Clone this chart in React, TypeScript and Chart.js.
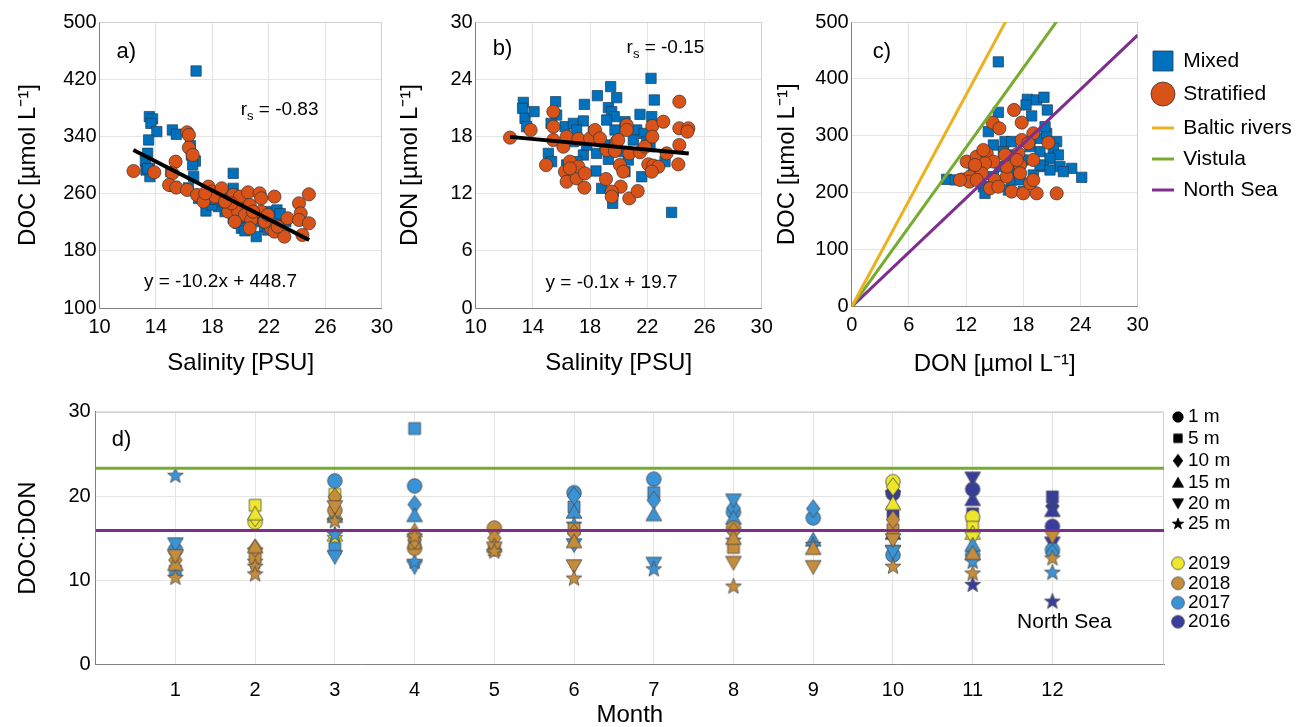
import React, { useEffect, useRef } from 'react';
import { Chart, registerables } from 'chart.js';

Chart.register(...registerables);

const FONT = "'Liberation Sans', Arial, Helvetica, sans-serif";
const BLUE = '#0072BD';
const ORANGE = '#D95319';
const GRID = '#e4e4e4';
const AXIS = '#808080';
const FRAME = '#d0d0d0';
const EDGE = '#333333';

// ---------------- ticks ----------------
const salinityTicks = [10, 14, 18, 22, 26, 30];
const docTicksA = [100, 180, 260, 340, 420, 500];
const donTicksB = [0, 6, 12, 18, 24, 30];
const donTicksC = [0, 6, 12, 18, 24, 30];
const docTicksC = [0, 100, 200, 300, 400, 500];
const ratioTicks = [0, 10, 20, 30];
const monthTicks = [1, 2, 3, 4, 5, 6, 7, 8, 9, 10, 11, 12];

// ---------------- panel a: salinity vs DOC ----------------
const mixedA: number[][] = [
  [16.84, 431.5], [13.53, 367.7], [13.76, 364.4], [13.64, 358.3], [14.06, 346.7], [13.48, 335],
  [13.41, 316.4], [13.25, 305.6], [13.53, 295.4], [13.29, 293], [13.57, 283.7], [15.16, 349],
  [15.44, 343], [16.44, 327], [16.51, 314], [16.79, 305.6], [16.6, 300], [16.67, 283.7],
  [19.47, 288.4], [19.47, 267.4], [17.02, 253.4], [17.54, 235.7], [18.42, 241.8], [18.89, 234.8],
  [19.47, 225.5], [19.82, 218.5], [20.17, 223.1], [20.64, 234.8], [21.22, 220.8], [21.69, 213.8],
  [21.1, 199.8], [22.04, 234.8], [22.57, 237.1], [21.92, 209.1], [19.59, 248.8], [19.12, 253.4],
  [20.52, 213.8], [20.05, 211.5], [21.45, 230.1], [18.42, 248.8], [17.96, 244.1], [22.6, 228],
  [23.2, 220.7], [22.8, 232], [20.8, 226], [21.6, 225], [19.9, 240], [18.2, 252], [16.3, 268],
  [15.28, 270], [13.41, 295], [15.05, 290.6], [20.3, 208], [22.3, 215], [19.24, 240],
];
const stratifiedA: number[][] = [
  [12.41, 291.6], [13.88, 289.8], [16.21, 345.7], [16.33, 342], [16.33, 324.3], [16.6, 314],
  [15.39, 304.7], [15.16, 288.4], [14.93, 272.1], [15.44, 268.4], [16.21, 265.1], [16.91, 258.1],
  [17.72, 269.8], [17.96, 262.8], [18.42, 260.4], [17.37, 248.8], [18.19, 255.8], [18.66, 267.4],
  [19.12, 234.8], [19.47, 258.1], [19.94, 255.8], [20.52, 261.8], [21.34, 260.4], [21.45, 253.4],
  [22.39, 255.8], [20.64, 244.1], [19.82, 234.8], [20.29, 230.1], [20.75, 223.1], [21.45, 234.8],
  [22.15, 211.5], [22.39, 206.8], [23.09, 199.8], [23.32, 225.5], [24.13, 246.4], [24.25, 232.4],
  [24.83, 259], [24.13, 223.1], [24.83, 218.5], [24.37, 202.1], [21.69, 220.8], [22.62, 213.8],
  [19.36, 246.4], [17.49, 260.4], [18.89, 248.8], [20.87, 234.8], [21.92, 230.1], [20.64, 211.5],
  [19.59, 220.8],
];
const fitA: number[][] = [[12.4, 321], [24.85, 195]];

// ---------------- panel b: salinity vs DON ----------------
const mixedB: number[][] = [
  [13.33, 21.57], [13.28, 20.94], [13.45, 19.9], [13.56, 19.02], [14.08, 20.6], [15.59, 21.64],
  [15.66, 20.24], [15.27, 19.37], [16.25, 19.02], [16.83, 19.37], [17.6, 21.36], [17.53, 19.62],
  [18.51, 22.27], [19.44, 23.22], [19.86, 22.06], [19.28, 21.01], [19.51, 20.6], [19.69, 20.07],
  [19.16, 19.72], [19.74, 18.67], [20.44, 19.54], [21.26, 18.67], [21.49, 20.31], [22.26, 24.09],
  [22.49, 21.82], [22.31, 20.07], [21.77, 18.32], [22.19, 16.92], [15.08, 16.22], [15.31, 15.35],
  [16.36, 15.0], [17.53, 16.05], [18.46, 16.22], [18.41, 14.37], [19.28, 15.59], [20.67, 15.52],
  [21.61, 13.77], [23.24, 15.35], [18.81, 12.55], [19.62, 12.2], [19.58, 10.98], [23.7, 10.03],
  [16.83, 17.45], [17.76, 17.1], [19.04, 17.1], [21.02, 17.62], [21.96, 17.45], [20.32, 16.4],
  [17.06, 18.67], [18.23, 18.5], [20.44, 14.3], [17.06, 15.35],
];
const stratifiedB: number[][] = [
  [12.4, 17.87], [13.84, 18.67], [15.43, 20.6], [15.43, 19.02], [15.43, 17.62], [14.92, 15.0],
  [16.13, 16.92], [16.36, 17.97], [16.59, 15.35], [16.24, 14.3], [16.36, 13.25], [17.06, 13.6],
  [17.18, 14.82], [17.64, 14.12], [17.6, 12.62], [17.18, 17.73], [18.0, 17.8], [18.34, 18.67],
  [18.69, 17.8], [19.16, 16.57], [19.11, 13.53], [19.86, 17.45], [19.74, 16.47], [19.97, 17.62],
  [20.56, 19.19], [20.56, 18.67], [20.09, 15.0], [20.32, 14.3], [20.14, 12.73], [19.51, 12.2],
  [19.51, 11.68], [20.74, 11.5], [21.33, 12.27], [20.74, 16.22], [21.49, 16.33], [21.84, 16.92],
  [22.35, 19.09], [22.35, 17.97], [23.12, 19.54], [22.07, 15.07], [22.42, 14.93], [22.77, 14.82],
  [22.31, 14.3], [23.35, 16.22], [24.24, 21.64], [24.24, 18.85], [24.87, 18.85], [24.8, 18.5],
  [24.24, 17.1], [24.17, 15.07], [16.59, 14.65],
];
const fitB: number[][] = [[12.4, 17.95], [24.9, 16.2]];

// ---------------- panel c: DON vs DOC ----------------
const mixedC: number[][] = [
  [15.38, 430], [18.43, 364.2], [19.4, 363.1], [20.17, 367.8], [18.29, 354.3], [20.52, 345.5],
  [15.38, 341.4], [18.88, 335], [14.33, 307.4], [16.08, 289.9], [14.86, 284], [16.78, 289.9],
  [19.75, 295.7], [20.45, 304.5], [20.28, 316.2], [21.5, 289.9], [21.15, 278.2], [21.68, 266.5],
  [19.75, 272.3], [20.8, 260.6], [20.1, 246], [21.85, 246], [23.08, 243], [24.13, 227.2],
  [22.2, 237.2], [9.96, 223.7], [10.84, 222.6], [12.76, 237.2], [13.81, 210.8], [13.98, 199.1],
  [16.43, 205], [16.78, 222.6], [17.31, 240.1], [18.0, 202.1], [15.56, 246], [18.0, 257.7],
  [16.96, 266.5], [19.05, 231.3], [15.91, 272.3], [18.7, 281.1], [17.66, 222.6], [19.75, 248.9],
  [20.8, 240.1], [14.86, 228.4], [13.46, 222.6], [11.89, 225.5],
];
const stratifiedC: number[][] = [
  [17.03, 345.5], [14.79, 323.3], [15.49, 313.3], [17.83, 323.3], [19.05, 304.5], [20.63, 288.1],
  [12.06, 254.8], [13.11, 263.5], [14.16, 269.4], [14.86, 254.8], [13.98, 251.8], [12.41, 228.4],
  [12.34, 219.6], [13.63, 234.3], [15.03, 222.6], [16.26, 228.4], [16.26, 246], [17.66, 248.9],
  [19.05, 257.7], [17.48, 269.4], [17.83, 292.8], [18.53, 287], [14.51, 207.9], [15.38, 210.8],
  [16.78, 202.1], [18.0, 199.1], [19.4, 199.1], [21.5, 199.1], [18.71, 216.7], [17.66, 234.3],
  [12.93, 248.9], [11.36, 222.6], [13.81, 275.2], [19.05, 222.6], [13.11, 222.6], [17.31, 257.7],
  [16.08, 266.5],
];

// reference DOC:DON ratios
const balticRiversRatio = 31;
const vistulaRatio = 23.3;
const northSeaRatio = 15.9;

// ---------------- panel d: DOC:DON by month ----------------
// [month, depth (m), DOC:DON]
const ratio2019: number[][] = [
  [2, 5, 18.9], [2, 15, 17.9], [2, 10, 17.4], [2, 1, 16.9], [2, 20, 13.1], [2, 25, 12.2],
  [3, 5, 20.2], [3, 15, 17.9], [3, 15, 15.4], [3, 25, 15.0],
  [10, 1, 21.7], [10, 10, 21.1], [10, 15, 19.1],
  [11, 1, 17.5], [11, 5, 16.3], [11, 15, 15.6], [11, 20, 15.0],
];
const ratio2018: number[][] = [
  [1, 20, 12.9], [1, 10, 12.4], [1, 15, 11.9], [1, 25, 10.3],
  [2, 15, 14.0], [2, 10, 13.8], [2, 5, 12.7], [2, 25, 11.6], [2, 25, 10.7],
  [3, 10, 19.9], [3, 20, 18.7], [3, 1, 18.3], [3, 25, 17.0],
  [4, 15, 15.9], [4, 25, 15.2], [4, 10, 14.8], [4, 5, 14.4], [4, 1, 13.8],
  [5, 1, 16.2], [5, 10, 15.0], [5, 15, 14.1], [5, 20, 13.8], [5, 5, 13.6], [5, 25, 13.4],
  [6, 5, 16.1], [6, 10, 15.6], [6, 15, 14.6], [6, 20, 11.7], [6, 25, 10.2],
  [8, 1, 16.2], [8, 10, 15.8], [8, 15, 15.0], [8, 5, 13.9], [8, 20, 12.1], [8, 25, 9.25],
  [9, 15, 13.8], [9, 20, 11.6],
  [10, 10, 17.2], [10, 5, 16.0], [10, 20, 14.8], [10, 25, 11.6],
  [11, 15, 13.2], [11, 25, 10.8],
  [12, 20, 15.2], [12, 25, 12.6],
];
const ratio2017: number[][] = [
  [1, 25, 22.4], [1, 20, 14.3], [1, 1, 13.6], [1, 5, 11.1],
  [3, 1, 21.8], [3, 15, 17.6], [3, 25, 15.4], [3, 5, 13.8], [3, 20, 12.8],
  [4, 5, 28.0], [4, 1, 21.2], [4, 10, 19.0], [4, 15, 17.7], [4, 25, 12.2], [4, 20, 11.6],
  [6, 1, 20.4], [6, 10, 20.0], [6, 5, 18.7], [6, 15, 18.1], [6, 25, 16.6], [6, 20, 14.2],
  [7, 1, 22.0], [7, 5, 20.4], [7, 10, 19.5], [7, 15, 17.8], [7, 20, 12.0], [7, 25, 11.3],
  [8, 20, 19.5], [8, 10, 18.6], [8, 1, 18.1], [8, 15, 17.4], [8, 25, 14.7],
  [9, 10, 18.5], [9, 1, 17.4], [9, 15, 14.8], [9, 25, 14.2],
  [10, 20, 13.4], [10, 1, 13.0],
  [11, 15, 14.2], [11, 1, 13.0], [11, 25, 12.2],
  [12, 1, 13.6], [12, 10, 13.2], [12, 25, 10.9],
];
const ratio2016: number[][] = [
  [10, 1, 20.3], [10, 20, 19.9], [10, 5, 18.1], [10, 15, 15.6], [10, 25, 13.8],
  [11, 20, 22.1], [11, 1, 20.8], [11, 15, 19.6], [11, 5, 17.9], [11, 10, 17.2], [11, 25, 9.45],
  [12, 5, 19.9], [12, 10, 18.8], [12, 15, 18.3], [12, 1, 16.4], [12, 20, 14.4], [12, 25, 7.47],
];

const depths = [1, 5, 10, 15, 20, 25];
const depthLabels = ['1 m', '5 m', '10 m', '15 m', '20 m', '25 m'];
const yearLabels = ['2019', '2018', '2017', '2016'];
const yearColors = ['#EDE62B', '#C58C3A', '#3A93D5', '#373D9C'];

type Shape = 'circle' | 'square' | 'diamond' | 'up' | 'down' | 'star';
const depthShapes: Shape[] = ['circle', 'square', 'diamond', 'up', 'down', 'star'];

function makeMarker(shape: Shape, fill: string, scale = 1, stroke = '#4a4a4a'): HTMLCanvasElement {
  const W = 22, H = 24;
  const c = document.createElement('canvas');
  c.width = W; c.height = H;
  const g = c.getContext('2d')!;
  const cx = W / 2, cy = H / 2, k = scale;
  g.beginPath();
  if (shape === 'circle') g.arc(cx, cy, 6.5 * k, 0, Math.PI * 2);
  else if (shape === 'square') g.rect(cx - 5.3 * k, cy - 5.3 * k, 10.6 * k, 10.6 * k);
  else if (shape === 'diamond') {
    g.moveTo(cx, cy - 8 * k); g.lineTo(cx + 6 * k, cy); g.lineTo(cx, cy + 8 * k); g.lineTo(cx - 6 * k, cy); g.closePath();
  } else if (shape === 'up') {
    g.moveTo(cx, cy - 6.8 * k); g.lineTo(cx + 7 * k, cy + 5.5 * k); g.lineTo(cx - 7 * k, cy + 5.5 * k); g.closePath();
  } else if (shape === 'down') {
    g.moveTo(cx, cy + 6.8 * k); g.lineTo(cx + 7 * k, cy - 5.5 * k); g.lineTo(cx - 7 * k, cy - 5.5 * k); g.closePath();
  } else {
    const R = 7.4 * k, r = R * 0.42;
    for (let i = 0; i < 10; i++) {
      const a = -Math.PI / 2 + (i * Math.PI) / 5;
      const rr = i % 2 === 0 ? R : r;
      const x = cx + rr * Math.cos(a), y = cy + rr * Math.sin(a);
      if (i === 0) g.moveTo(x, y); else g.lineTo(x, y);
    }
    g.closePath();
  }
  g.fillStyle = fill; g.fill();
  g.lineWidth = 0.8; g.strokeStyle = stroke; g.stroke();
  return c;
}

function axis(o: {
  pos: 'x' | 'y'; min: number; max: number; ticks: number[]; title: string;
  size: number; tickPad: number; titlePad: number; titleLH?: number;
}) {
  return {
    type: 'linear',
    position: o.pos === 'x' ? 'bottom' : 'left',
    min: o.min,
    max: o.max,
    afterBuildTicks: (s: any) => { s.ticks = o.ticks.map((v) => ({ value: v })); },
    afterFit: (s: any) => { if (o.pos === 'x') s.height = o.size; else s.width = o.size; },
    grid: { color: GRID, lineWidth: 1, drawTicks: false },
    border: { display: true, color: AXIS, width: 1 },
    ticks: {
      color: '#000', padding: o.tickPad, autoSkip: false, maxRotation: 0, minRotation: 0,
      font: { family: FONT, size: 20 }, callback: (v: any) => String(v),
    },
    title: {
      display: true, text: o.title, color: '#000',
      font: { family: FONT, size: 24, lineHeight: o.titleLH ?? 1.2 },
      padding: o.pos === 'x' ? { top: 0, bottom: o.titlePad } : { top: o.titlePad, bottom: 0 },
    },
  };
}

const framePlugin = {
  id: 'frame',
  beforeDatasetsDraw(chart: any) {
    const { ctx, chartArea: a } = chart;
    ctx.save();
    ctx.strokeStyle = FRAME;
    ctx.lineWidth = 1;
    ctx.beginPath();
    ctx.moveTo(a.left, Math.round(a.top) + 0.5);
    ctx.lineTo(Math.round(a.right) - 0.5, Math.round(a.top) + 0.5);
    ctx.lineTo(Math.round(a.right) - 0.5, a.bottom);
    ctx.stroke();
    ctx.restore();
  },
};

type Note = { kind: 'text' | 'rs'; text: string; x: number; y: number; align: CanvasTextAlign; size: number };
function notesPlugin(notes: Note[]) {
  return {
    id: 'notes',
    afterDraw(chart: any) {
      const ctx = chart.ctx as CanvasRenderingContext2D;
      const xs = chart.scales.x, ys = chart.scales.y;
      ctx.save();
      ctx.fillStyle = '#000';
      ctx.textBaseline = 'middle';
      for (const n of notes) {
        const px = xs.getPixelForValue(n.x), py = ys.getPixelForValue(n.y);
        ctx.font = `${n.size}px ${FONT}`;
        if (n.kind === 'rs') {
          ctx.textAlign = 'left';
          ctx.fillText('r', px, py);
          let w = ctx.measureText('r').width;
          ctx.font = `${Math.round(n.size * 0.68)}px ${FONT}`;
          ctx.fillText('s', px + w, py + n.size * 0.32);
          w += ctx.measureText('s').width;
          ctx.font = `${n.size}px ${FONT}`;
          ctx.fillText(' = ' + n.text, px + w, py);
        } else {
          ctx.textAlign = n.align;
          ctx.fillText(n.text, px, py);
        }
      }
      ctx.restore();
    },
  };
}

const baseOptions = (padRight: number, padTop: number) => ({
  responsive: false,
  animation: false,
  events: [],
  layout: { padding: { left: 0, top: padTop, right: padRight, bottom: 0 }, autoPadding: false },
  plugins: { legend: { display: false }, tooltip: { enabled: false } },
});

const pts = (arr: number[][]) => arr.map(([x, y]) => ({ x, y }));

function scatterSets(mixed: number[][], strat: number[][]) {
  return [
    {
      data: pts(strat), pointStyle: 'circle', pointRadius: 6.6,
      backgroundColor: ORANGE, borderColor: EDGE, borderWidth: 0.7, showLine: false,
    },
    {
      data: pts(mixed), pointStyle: 'rect', pointRadius: 7.3,
      backgroundColor: BLUE, borderColor: '#1d3c5a', borderWidth: 0.7, showLine: false,
    },
  ];
}

function fitSet(fit: number[][]) {
  return { data: pts(fit), showLine: true, borderColor: '#000', borderWidth: 4, pointRadius: 0, fill: false };
}

function refLine(ratio: number, color: string, maxX: number) {
  return {
    data: [{ x: 0, y: 0 }, { x: maxX, y: maxX * ratio }],
    showLine: true, borderColor: color, borderWidth: 3, pointRadius: 0, fill: false,
  };
}

function configA() {
  return {
    type: 'scatter',
    data: { datasets: [fitSet(fitA), ...scatterSets(mixedA, stratifiedA)] },
    options: {
      ...baseOptions(14.5, 22),
      scales: {
        x: axis({ pos: 'x', min: 10, max: 30, ticks: salinityTicks, title: 'Salinity [PSU]', size: 77, tickPad: 7, titlePad: 7 }),
        y: axis({ pos: 'y', min: 100, max: 500, ticks: docTicksA, title: 'DOC [µmol L⁻¹]', size: 99.5, tickPad: 3, titlePad: 14 }),
      },
    },
    plugins: [framePlugin, notesPlugin([
      { kind: 'text', text: 'a)', x: 11.2, y: 458, align: 'left', size: 22 },
      { kind: 'rs', text: '-0.83', x: 20.0, y: 377, align: 'left', size: 19 },
      { kind: 'text', text: 'y = -10.2x + 448.7', x: 18.57, y: 136, align: 'center', size: 19 },
    ])],
  };
}

function configB() {
  return {
    type: 'scatter',
    data: { datasets: [fitSet(fitB), ...scatterSets(mixedB, stratifiedB)] },
    options: {
      ...baseOptions(18.3, 22),
      scales: {
        x: axis({ pos: 'x', min: 10, max: 30, ticks: salinityTicks, title: 'Salinity [PSU]', size: 77, tickPad: 7, titlePad: 7 }),
        y: axis({ pos: 'y', min: 0, max: 30, ticks: donTicksB, title: 'DON [µmol L⁻¹]', size: 95.7, tickPad: 3, titlePad: 16 }),
      },
    },
    plugins: [framePlugin, notesPlugin([
      { kind: 'text', text: 'b)', x: 11.2, y: 27.2, align: 'left', size: 22 },
      { kind: 'rs', text: '-0.15', x: 20.55, y: 27.25, align: 'left', size: 19 },
      { kind: 'text', text: 'y = -0.1x + 19.7', x: 19.5, y: 2.6, align: 'center', size: 19 },
    ])],
  };
}

const legendC = {
  id: 'legendC',
  afterDraw(chart: any) {
    const ctx = chart.ctx as CanvasRenderingContext2D;
    const a = chart.chartArea;
    const mx = a.right + 25.3, tx = a.right + 45.5;
    ctx.save();
    ctx.font = `21px ${FONT}`;
    ctx.textBaseline = 'middle';
    ctx.textAlign = 'left';
    ctx.fillStyle = '#000';
    const rows = [
      { label: 'Mixed', y: 61, kind: 'square', color: BLUE },
      { label: 'Stratified', y: 94, kind: 'circle', color: ORANGE },
      { label: 'Baltic rivers', y: 128, kind: 'line', color: '#EDB120' },
      { label: 'Vistula', y: 159, kind: 'line', color: '#77AC30' },
      { label: 'North Sea', y: 190, kind: 'line', color: '#7E2F8E' },
    ];
    for (const r of rows) {
      ctx.beginPath();
      if (r.kind === 'square') {
        ctx.rect(mx - 10, r.y - 10, 20, 20);
        ctx.fillStyle = r.color; ctx.fill();
        ctx.lineWidth = 0.8; ctx.strokeStyle = '#1d3c5a'; ctx.stroke();
      } else if (r.kind === 'circle') {
        ctx.arc(mx, r.y, 12, 0, Math.PI * 2);
        ctx.fillStyle = r.color; ctx.fill();
        ctx.lineWidth = 0.8; ctx.strokeStyle = EDGE; ctx.stroke();
      } else {
        ctx.moveTo(mx - 11, r.y); ctx.lineTo(mx + 11, r.y);
        ctx.lineWidth = 3; ctx.strokeStyle = r.color; ctx.stroke();
      }
      ctx.fillStyle = '#000';
      ctx.fillText(r.label, tx, r.y);
    }
    ctx.restore();
  },
};

function configC() {
  return {
    type: 'scatter',
    data: {
      datasets: [
        refLine(balticRiversRatio, '#EDB120', 30),
        refLine(vistulaRatio, '#77AC30', 30),
        refLine(northSeaRatio, '#7E2F8E', 30),
        ...scatterSets(mixedC, stratifiedC),
      ],
    },
    options: {
      ...baseOptions(164.3, 22),
      scales: {
        x: axis({ pos: 'x', min: 0, max: 30, ticks: donTicksC, title: 'DON [µmol L⁻¹]', size: 78.3, tickPad: 7, titlePad: 6 }),
        y: axis({ pos: 'y', min: 0, max: 500, ticks: docTicksC, title: 'DOC [µmol L⁻¹]', size: 91.7, tickPad: 3, titlePad: 13 }),
      },
    },
    plugins: [framePlugin, legendC, notesPlugin([
      { kind: 'text', text: 'c)', x: 2.2, y: 447, align: 'left', size: 22 },
    ])],
  };
}

function configD() {
  const yearData = [ratio2019, ratio2018, ratio2017, ratio2016];
  const drawOrder = [1, 2, 0, 3]; // first listed is drawn on top
  const sets: any[] = [
    { data: [{ x: 0, y: vistulaRatio }, { x: 13.4, y: vistulaRatio }], showLine: true, borderColor: '#77AC30', borderWidth: 3, pointRadius: 0 },
    { data: [{ x: 0, y: northSeaRatio }, { x: 13.4, y: northSeaRatio }], showLine: true, borderColor: '#7E2F8E', borderWidth: 3, pointRadius: 0 },
  ];
  for (const yi of drawOrder) {
    for (let di = depths.length - 1; di >= 0; di--) {
      const rows = yearData[yi].filter((r) => r[1] === depths[di]);
      if (!rows.length) continue;
      sets.push({
        data: rows.map((r) => ({ x: r[0], y: r[2] })),
        pointStyle: makeMarker(depthShapes[di], yearColors[yi], 1.12),
        pointRadius: 6,
        showLine: false,
      });
    }
  }
  const legendD = {
    id: 'legendD',
    afterDraw(chart: any) {
      const ctx = chart.ctx as CanvasRenderingContext2D;
      const a = chart.chartArea;
      const mx = a.right + 14, tx = a.right + 24;
      ctx.save();
      ctx.font = `19px ${FONT}`;
      ctx.textBaseline = 'middle';
      ctx.textAlign = 'left';
      ctx.fillStyle = '#000';
      const depthY = [32, 53.3, 75.7, 97.7, 118.3, 139];
      depthLabels.forEach((lab, i) => {
        const m = makeMarker(depthShapes[i], '#000', 0.8, '#000');
        ctx.drawImage(m, mx - m.width / 2, depthY[i] - m.height / 2);
        ctx.fillText(lab, tx, depthY[i]);
      });
      const yearY = [178.3, 198.3, 217.7, 236.7];
      yearLabels.forEach((lab, i) => {
        const m = makeMarker('circle', yearColors[i], 0.98);
        ctx.drawImage(m, mx - m.width / 2, yearY[i] - m.height / 2);
        ctx.fillText(lab, tx, yearY[i]);
      });
      ctx.restore();
    },
  };
  return {
    type: 'scatter',
    data: { datasets: sets },
    options: {
      ...baseOptions(138, 26.7),
      scales: {
        x: axis({ pos: 'x', min: 0, max: 13.4, ticks: monthTicks, title: 'Month', size: 62.4, tickPad: 14, titlePad: 0, titleLH: 1 }),
        y: axis({ pos: 'y', min: 0, max: 30, ticks: ratioTicks, title: 'DOC:DON', size: 95.7, tickPad: 5, titlePad: 14 }),
      },
    },
    plugins: [framePlugin, legendD, notesPlugin([
      { kind: 'text', text: 'd)', x: 0.2, y: 26.6, align: 'left', size: 22 },
      { kind: 'text', text: 'North Sea', x: 12.15, y: 5.05, align: 'center', size: 21 },
    ])],
  };
}

function ChartCanvas(props: { left: number; top: number; width: number; height: number; make: () => any }) {
  const ref = useRef<HTMLCanvasElement>(null);
  useEffect(() => {
    const chart = new Chart(ref.current as HTMLCanvasElement, props.make());
    return () => chart.destroy();
  }, []);
  return (
    <canvas
      ref={ref}
      width={props.width}
      height={props.height}
      style={{ position: 'absolute', left: props.left, top: props.top, width: props.width, height: props.height }}
    />
  );
}

export default function App() {
  return (
    <div style={{ position: 'fixed', left: 0, top: 0, width: 1302, height: 727, background: '#fff', overflow: 'hidden' }}>
      <ChartCanvas left={0} top={0} width={400} height={385} make={configA} />
      <ChartCanvas left={380} top={0} width={400} height={385} make={configB} />
      <ChartCanvas left={760} top={0} width={542} height={385} make={configC} />
      <ChartCanvas left={0} top={385} width={1302} height={342} make={configD} />
    </div>
  );
}
